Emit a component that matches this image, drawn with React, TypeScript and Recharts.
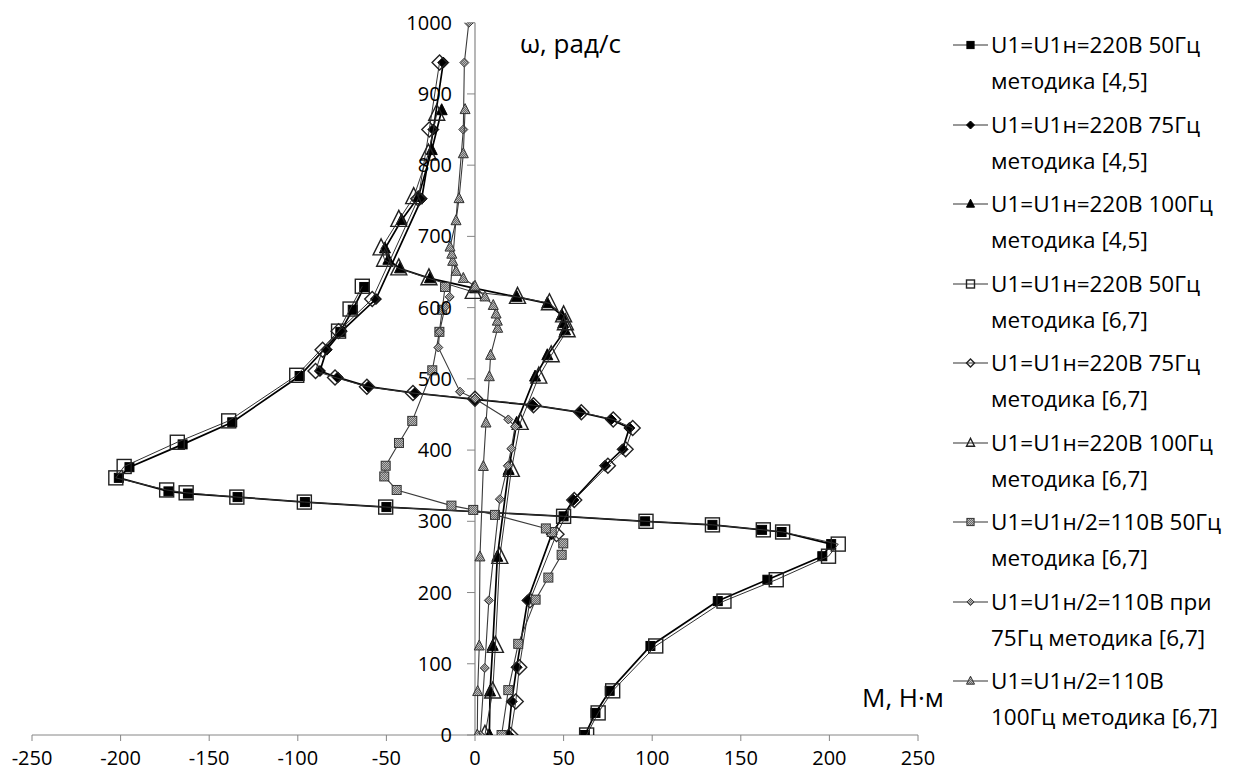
import React from "react";
import { ScatterChart, Scatter, XAxis, YAxis, ReferenceLine } from "recharts";

// ω, рад/с (vertical) and M, Н·м (horizontal)
const w50a = [0, 31, 62, 125, 188, 218, 251, 268, 285, 288, 295, 300, 307, 320, 327, 334, 339, 342, 361, 376, 408, 439, 504, 566, 597, 629];
const m50a = [62, 68, 76, 99, 137, 165, 196, 201, 173, 162, 134, 96, 50, -50, -96, -134, -162, -173, -201, -195, -165, -137, -99, -76, -69, -62.5];

const w75a = [0, 47, 95, 189, 282, 330, 378, 401, 431, 443, 453, 463, 471, 480, 489, 502, 511, 541, 567, 612, 753, 850, 944];
const m75a = [18.8, 20.7, 23.5, 29.7, 43.3, 55.5, 73.4, 83.3, 87.1, 76.7, 59.3, 32.5, 0, -33.9, -60.2, -77.5, -87.5, -83.7, -75.2, -55.9, -30.1, -23.5, -17.9];

const w100a = [0, 61, 125, 250, 372, 438, 503, 533, 568, 578, 589, 606, 615, 627, 641, 655, 667, 683, 723, 755, 821, 877];
const m100a = [8.1, 8.5, 10, 12.6, 19, 23.5, 33.9, 40.8, 50.8, 49.8, 49, 40.8, 23.5, 0, -25.4, -42.3, -48.9, -50.8, -41.4, -32, -24.4, -18.8];

const w50b = [0, 31, 62, 125, 188, 218, 251, 268, 285, 288, 295, 300, 307, 320, 327, 334, 340, 344, 361, 377, 411, 441, 505, 567, 598, 630];
const m50b = [63, 69.5, 77.7, 102, 140.5, 170, 199.5, 205, 173.6, 162.7, 134, 96.5, 50, -50.4, -96.3, -134.4, -163, -174, -202.7, -198, -168, -139, -100.6, -77, -70.5, -63.6];

const w75b = [0, 47, 95, 189, 282, 330, 378, 401, 431, 443, 453, 463, 472, 480, 489, 502, 511, 541, 567, 612, 753, 850, 944];
const m75b = [20, 23, 25, 31, 46, 56, 75, 85, 89, 78, 60, 33, 0, -35, -61, -79, -90, -86, -77, -58, -32, -25.8, -20];

const w100b = [0, 61, 125, 250, 372, 438, 503, 533, 568, 578, 589, 606, 615, 622, 641, 655, 667, 683, 723, 755, 816, 872];
const m100b = [5.6, 10, 11.5, 14, 20.5, 25.5, 36, 43, 52, 51, 50, 42, 24, -1, -26, -43, -51, -53, -43, -34.6, -26.3, -21.6];

const w50c = [0, 63, 128, 190, 221, 253, 269, 285, 290, 309, 316, 322, 344, 363, 378, 410, 441, 512, 566, 597, 629];
const m50c = [15, 18.8, 24.4, 34.2, 41.4, 48.9, 49.8, 43.3, 40, 11.3, -1, -13.3, -44.2, -51.2, -50.4, -42.9, -35.4, -24.1, -20.1, -18.5, -16.9];

const w75c = [0, 94, 189, 331, 378, 402, 433, 443, 472, 482, 544, 566, 601, 615, 850, 944, 1000];
const m75c = [3, 5.5, 7.8, 14, 18.5, 20.5, 22.6, 18.8, 0, -8.5, -20.7, -20, -16.9, -14.3, -6.6, -6, -3.5];

const w100c = [0, 61, 125, 250, 377, 438, 503, 533, 571, 581, 591, 603, 615, 630, 641, 651, 665, 675, 685, 722, 753, 816, 878];
const m100c = [1.3, 1.5, 2.4, 2.8, 4.7, 6.2, 8.1, 8.8, 12.8, 12.6, 11.9, 10.3, 5.6, 0, -6.6, -10.7, -12.6, -13.1, -14.1, -10.7, -9, -6.6, -5.6];

const seriesNames = [
  "U1=U1н=220В 50Гц\nметодика [4,5]",
  "U1=U1н=220В 75Гц\nметодика [4,5]",
  "U1=U1н=220В 100Гц\nметодика [4,5]",
  "U1=U1н=220В 50Гц\nметодика [6,7]",
  "U1=U1н=220В 75Гц\nметодика [6,7]",
  "U1=U1н=220В 100Гц\nметодика [6,7]",
  "U1=U1н/2=110В 50Гц\nметодика [6,7]",
  "U1=U1н/2=110В при\n75Гц методика [6,7]",
  "U1=U1н/2=110В\n100Гц методика [6,7]",
];

const xTicks = [-250, -200, -150, -100, -50, 0, 50, 100, 150, 200, 250];
const yTicks = [0, 100, 200, 300, 400, 500, 600, 700, 800, 900, 1000];

const FONT = '"Open Sans", sans-serif';
const AXIS = "#868686";

type Mk = { kind: "square" | "diamond" | "triangle"; size: number; fill: string; stroke: string; sw: number };

const zip = (w: number[], m: number[]) => w.map((y, i) => ({ x: m[i], y }));

const black = (kind: Mk["kind"], size: number): Mk => ({ kind, size, fill: "#000", stroke: "#000", sw: 1 });
const hollow = (kind: Mk["kind"], size: number): Mk => ({ kind, size, fill: "none", stroke: "#222", sw: 1.4 });
const gray = (kind: Mk["kind"], size: number): Mk => ({ kind, size, fill: "url(#grayDots)", stroke: "#333", sw: 1 });

const series = [
  { data: zip(w50a, m50a), mk: black("square", 9), line: { stroke: "#000", strokeWidth: 1.7 } },
  { data: zip(w75a, m75a), mk: black("diamond", 11), line: { stroke: "#000", strokeWidth: 1.7 } },
  { data: zip(w100a, m100a), mk: black("triangle", 11), line: { stroke: "#000", strokeWidth: 1.7 } },
  { data: zip(w50b, m50b), mk: hollow("square", 14), line: { stroke: "#333", strokeWidth: 1 } },
  { data: zip(w75b, m75b), mk: hollow("diamond", 15), line: { stroke: "#333", strokeWidth: 1 } },
  { data: zip(w100b, m100b), mk: hollow("triangle", 16), line: { stroke: "#333", strokeWidth: 1 } },
  { data: zip(w50c, m50c), mk: gray("square", 9), line: { stroke: "#3a3a3a", strokeWidth: 1.1 } },
  { data: zip(w75c, m75c), mk: gray("diamond", 9), line: { stroke: "#3a3a3a", strokeWidth: 1.1 } },
  { data: zip(w100c, m100c), mk: gray("triangle", 10), line: { stroke: "#3a3a3a", strokeWidth: 1.1 } },
];

function Marker({ cx, cy, mk }: { cx: number; cy: number; mk: Mk }) {
  const h = mk.size / 2;
  if (mk.kind === "square") {
    return <rect x={cx - h} y={cy - h} width={mk.size} height={mk.size} fill={mk.fill} stroke={mk.stroke} strokeWidth={mk.sw} />;
  }
  if (mk.kind === "diamond") {
    return (
      <polygon
        points={`${cx},${cy - h} ${cx + h},${cy} ${cx},${cy + h} ${cx - h},${cy}`}
        fill={mk.fill}
        stroke={mk.stroke}
        strokeWidth={mk.sw}
      />
    );
  }
  return (
    <polygon
      points={`${cx},${cy - mk.size * 0.6} ${cx + h},${cy + mk.size * 0.4} ${cx - h},${cy + mk.size * 0.4}`}
      fill={mk.fill}
      stroke={mk.stroke}
      strokeWidth={mk.sw}
    />
  );
}

function Legend() {
  return (
    <div style={{ position: "absolute", left: 951, top: 27, fontSize: 22.5, lineHeight: "36px", color: "#000" }}>
      {series.map((s, i) => (
        <div key={i} style={{ display: "flex", height: 79.5 }}>
          <svg width={39} height={36} style={{ flex: "none" }}>
            <line x1={2} y1={18} x2={37} y2={18} stroke="#333" strokeWidth={1.2} />
            <Marker cx={19.5} cy={18} mk={{ ...s.mk, size: Math.min(s.mk.size, 10) * 0.8 }} />
          </svg>
          <div style={{ whiteSpace: "pre", marginLeft: 1 }}>{seriesNames[i]}</div>
        </div>
      ))}
    </div>
  );
}

export default function App() {
  return (
    <div style={{ position: "relative", margin: -8, width: 1237, height: 776, fontFamily: FONT, background: "#fff" }}>
      <svg width={0} height={0} style={{ position: "absolute" }}>
        <defs>
          <pattern id="grayDots" width={2} height={2} patternUnits="userSpaceOnUse">
            <rect width={2} height={2} fill="#6a6a6a" />
            <rect width={1} height={1} fill="#b8b8b8" />
            <rect x={1} y={1} width={1} height={1} fill="#b8b8b8" />
          </pattern>
        </defs>
      </svg>
      <ScatterChart width={1237} height={776} margin={{ top: 22.7, right: 319, left: 32, bottom: 0 }}>
        <XAxis
          type="number"
          dataKey="x"
          domain={[-250, 250]}
          ticks={xTicks}
          height={41}
          tickSize={6}
          tickMargin={10}
          stroke={AXIS}
          tick={{ fill: "#000", fontSize: 20 }}
          allowDataOverflow
        />
        <YAxis type="number" dataKey="y" domain={[0, 1000]} hide allowDataOverflow />
        <ReferenceLine x={0} stroke={AXIS} strokeWidth={1.2} />
        {yTicks.map((v) => (
          <ReferenceLine
            key={v}
            segment={[{ x: -4.5, y: v }, { x: 0, y: v }]}
            stroke={AXIS}
            label={{ value: String(v), position: "left", offset: 15, fill: "#000", fontSize: 20 }}
          />
        ))}
        {series.map((s, i) => (
          <Scatter
            key={i}
            name={seriesNames[i]}
            data={s.data}
            line={s.line}
            lineType="joint"
            isAnimationActive={false}
            shape={(p: any) => <Marker cx={p.cx} cy={p.cy} mk={s.mk} />}
          />
        ))}
      </ScatterChart>
      <div style={{ position: "absolute", left: 520, top: 26, fontSize: 26, lineHeight: "34px" }}>ω, рад/с</div>
      <div style={{ position: "absolute", left: 862, top: 680, fontSize: 26, lineHeight: "34px" }}>М, Н·м</div>
      <Legend />
    </div>
  );
}
